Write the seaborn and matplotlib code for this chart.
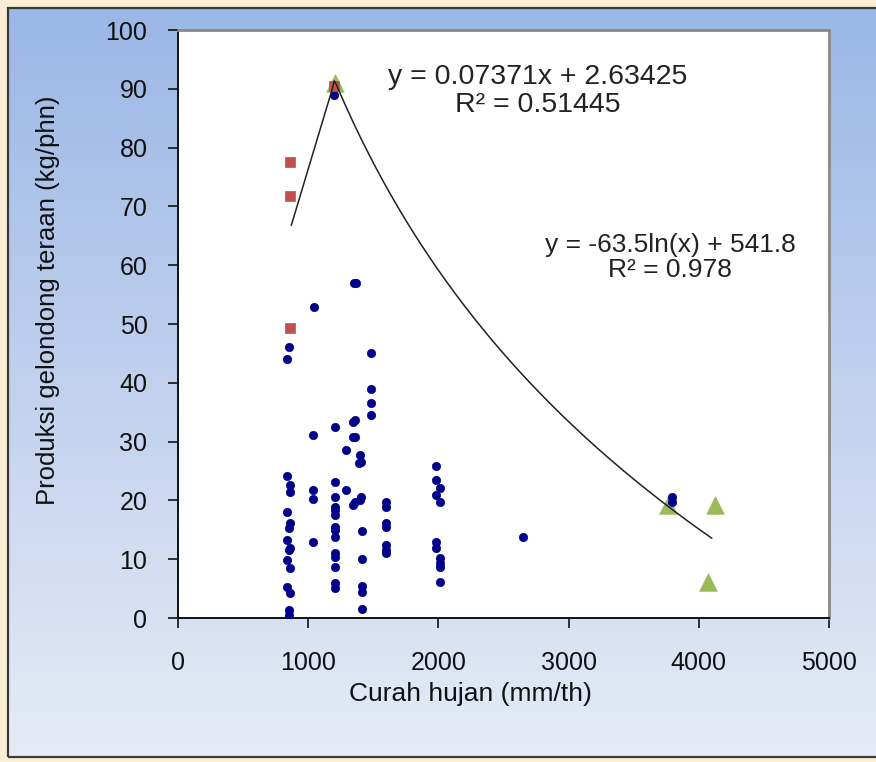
import numpy as np
import pandas as pd
import matplotlib
matplotlib.use("Agg")
import matplotlib.pyplot as plt
from matplotlib.patches import Rectangle
import seaborn as sns

# ---------------- data ----------------
blue_x = [850, 840, 840, 860, 860, 840, 860, 850, 840, 860, 850, 840, 860, 840, 860, 855, 855,
          1044, 1040, 1040, 1040, 1040,
          1200, 1205, 1205, 1205, 1205, 1205, 1205, 1205, 1205, 1205, 1205, 1205, 1205, 1205, 1205,
          1290, 1290,
          1350, 1365, 1360, 1345, 1360, 1345, 1360, 1345,
          1395, 1405, 1390, 1405, 1395,
          1410, 1410, 1410, 1410, 1410,
          1480, 1480, 1480, 1480,
          1600, 1600, 1600, 1600, 1600, 1600, 1600,
          1985, 1985, 2015, 1985, 2015, 1985, 1985, 2015, 2015, 2015, 2015,
          2650,
          3795, 3795]
blue_y = [46.1, 44.0, 24.2, 22.6, 21.5, 18.1, 16.1, 15.3, 13.3, 11.9, 11.6, 9.9, 8.5, 5.3, 4.2, 1.4, 0.5,
          52.9, 31.1, 21.8, 20.2, 12.9,
          89.0, 32.4, 23.2, 20.6, 18.9, 18.4, 17.5, 15.5, 15.0, 13.7, 11.0, 10.4, 8.6, 5.9, 5.1,
          28.6, 21.8,
          57.0, 57.0, 33.6, 33.3, 30.7, 30.7, 19.8, 19.3,
          27.7, 26.6, 26.3, 20.6, 20.0,
          14.8, 10.0, 5.5, 4.4, 1.6,
          45.0, 38.9, 36.5, 34.5,
          19.8, 18.9, 16.1, 15.5, 12.4, 11.6, 11.0,
          25.9, 23.4, 22.1, 20.9, 19.7, 13.0, 11.9, 10.2, 9.3, 8.6, 6.2,
          13.8,
          20.5, 19.8]

red_x = [860, 860, 860, 1200]
red_y = [77.6, 71.8, 49.3, 90.5]

green_x = [1205, 3760, 4125, 4070]
green_y = [91.0, 19.2, 19.2, 6.1]

# trendline coefficients (as printed on the chart)
lin_a, lin_b = 0.07371, 2.63425
log_a, log_b = -63.5, 541.8
lin_range = (870, 1200)
log_range = (1200, 4100)

x_ticks = [0, 1000, 2000, 3000, 4000, 5000]
y_ticks = [0, 10, 20, 30, 40, 50, 60, 70, 80, 90, 100]

eq1 = "y = 0.07371x + 2.63425\nR² = 0.51445"
eq2 = "y = -63.5ln(x) + 541.8\nR² = 0.978"
xlabel = "Curah hujan (mm/th)"
ylabel = "Produksi gelondong teraan (kg/phn)"

# ---------------- style ----------------
sns.set_style("ticks")
plt.rcParams['font.family'] = ['Liberation Sans', 'DejaVu Sans']

W, H = 876, 762
fig = plt.figure(figsize=(W / 100, H / 100), dpi=100)
fig.patch.set_facecolor("#fbeed5")

# background panel with gradient
bg = fig.add_axes([0, 0, 1, 1], zorder=-10)
bg.set_xlim(0, 1)
bg.set_ylim(0, 1)
bg.axis("off")
top_c = np.array([0x9b, 0xb7, 0xe6]) / 255
bot_c = np.array([0xe6, 0xeb, 0xf6]) / 255
t = np.linspace(0, 1, 256)[:, None]
grad = (1 - t) * top_c + t * bot_c
grad = grad[:, None, :]
x0, x1 = 8 / W, 1.02
y0, y1 = 1 - 757 / H, 1 - 8 / H
bg.imshow(grad, extent=[x0, x1, y0, y1], aspect="auto", origin="upper", zorder=0)
bg.add_patch(Rectangle((x0, y0), x1 - x0, y1 - y0, fill=False, edgecolor="#3a3a3a",
                       linewidth=1.6, zorder=1))

# main axes
ax = fig.add_axes([178 / W, 1 - 618 / H, (829 - 178) / W, (618 - 30) / H], zorder=1)
ax.set_facecolor("white")

blue_df = pd.DataFrame({"x": blue_x, "y": blue_y})
red_df = pd.DataFrame({"x": red_x, "y": red_y})
green_df = pd.DataFrame({"x": green_x, "y": green_y})

sns.scatterplot(data=green_df, x="x", y="y", ax=ax, marker="^", s=160, color="#9bbb59",
                edgecolor="#9bbb59", linewidth=0.5, zorder=3)
sns.scatterplot(data=blue_df, x="x", y="y", ax=ax, marker="o", s=36, color="#00008b",
                edgecolor="#00008b", linewidth=0.5, zorder=4)
sns.scatterplot(data=red_df, x="x", y="y", ax=ax, marker="s", s=42, color="#c0504d",
                edgecolor="#c0504d", linewidth=0.5, zorder=5)

xl = np.linspace(lin_range[0], lin_range[1], 20)
xg = np.linspace(log_range[0], log_range[1], 200)
tx = np.concatenate([xl, xg])
ty = np.concatenate([lin_a * xl + lin_b, log_a * np.log(xg) + log_b])
sns.lineplot(x=tx, y=ty, ax=ax, color="#222222", linewidth=1.1, sort=False, zorder=6)

ax.set_xlim(0, 5000)
ax.set_ylim(0, 100)
ax.set_xticks(x_ticks)
ax.set_yticks(y_ticks)
ax.set_xticklabels([str(v) for v in x_ticks])
ax.set_yticklabels([str(v) for v in y_ticks])
ax.tick_params(axis="both", direction="out", length=7, width=1.2, color="#111111",
               labelsize=18, labelcolor="#111111")
ax.tick_params(axis="x", pad=17)
ax.tick_params(axis="y", pad=15)

for s in ["left", "bottom"]:
    ax.spines[s].set_color("#111111")
    ax.spines[s].set_linewidth(1.4)
for s in ["top", "right"]:
    ax.spines[s].set_visible(True)
    ax.spines[s].set_color("#8a8a8a")
    ax.spines[s].set_linewidth(2.0)

ax.set_xlabel(xlabel, fontsize=19, color="#111111")
ax.set_ylabel(ylabel, fontsize=18.5, color="#111111")
ax.xaxis.set_label_coords(0.449, -0.108)
ax.yaxis.set_label_coords(-0.182, 0.54)

ax.text(2765, 89.6, eq1, ha="center", va="center", fontsize=20.5, color="#222222",
        linespacing=1.1)
ax.text(3779, 61.3, eq2, ha="center", va="center", fontsize=19, color="#222222",
        linespacing=1.08)

fig.savefig("out.png", dpi=100, facecolor=fig.get_facecolor())
